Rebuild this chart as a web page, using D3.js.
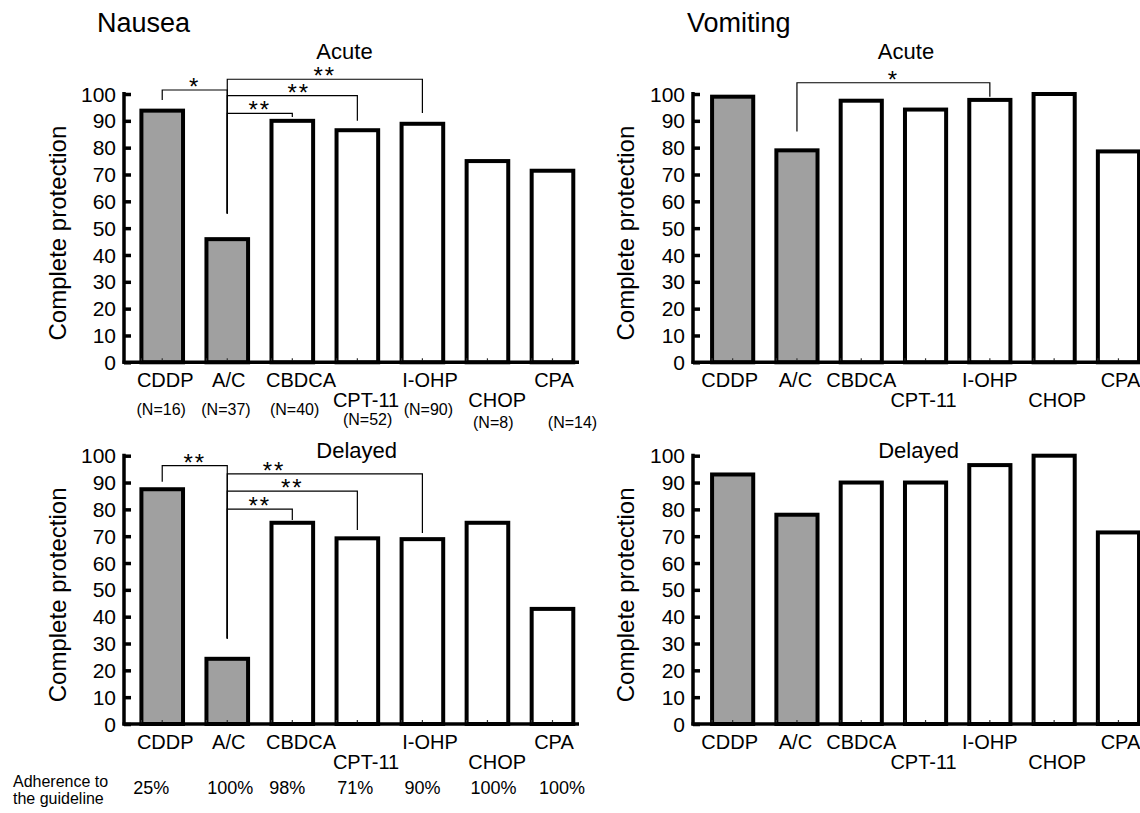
<!DOCTYPE html>
<html><head><meta charset="utf-8">
<script src="https://cdn.jsdelivr.net/npm/d3@7"></script>
<style>
body{margin:0;background:#fff}
svg{display:block}
text{font-family:"Liberation Sans",Arial,Helvetica,sans-serif;fill:#000}
</style>
</head><body>
<svg id="chart" width="1140" height="813"></svg>
<script>
// ---------- data ----------
const categories = ["CDDP","A/C","CBDCA","CPT-11","I-OHP","CHOP","CPA"];
const labelRow   = [0,0,0,1,0,1,0];
const shaded     = ["CDDP","A/C"];
const nLabels    = ["(N=16)","(N=37)","(N=40)","(N=52)","(N=90)","(N=8)","(N=14)"];
const adherence  = ["25%","100%","98%","71%","90%","100%","100%"];
const yTicks     = [0,10,20,30,40,50,60,70,80,90,100];

const nauseaAcute     = [93.8,45.9,90.0,86.5,88.9,75.0,71.4];
const nauseaDelayed   = [87.5,24.3,75.0,69.2,68.9,75.0,42.9];
const vomitingAcute   = [99.0,79.0,97.5,94.2,97.8,100.0,78.6];
const vomitingDelayed = [93.0,78.0,90.0,90.0,96.5,100.0,71.4];

// brackets: [from, to, level, fromEnd, toEnd, label, labelFraction]
const bracketsNauseaAcute = [
  ["CDDP","A/C",101.5,97.8,55.5,"*",0.5],
  ["A/C","I-OHP",105.5,55.5,92.9,"**",0.5],
  ["A/C","CPT-11",99.4,55.5,90.0,"**",0.55],
  ["A/C","CBDCA",92.8,55.5,91.4,"**",0.5]
];
const bracketsNauseaDelayed = [
  ["CDDP","A/C",96.3,90.3,31.9,"**",0.5],
  ["A/C","I-OHP",93.2,31.9,71.2,"**",0.24],
  ["A/C","CPT-11",86.8,31.9,72.3,"**",0.5],
  ["A/C","CBDCA",80.1,31.9,76.0,"**",0.5]
];
const bracketsVomitingAcute = [
  ["A/C","I-OHP",104.2,86.0,99.0,"*",0.5]
];

// ---------- layout ----------
const svg = d3.select("#chart");
const left  = {axisX:124, range:[129.7,585], axisEnd:579, ylabX:66, catDx:[3,1.5,8.7,8.7,7.7,9.8,1.5]};
const right = {axisX:693, range:[700.5,1150.6], axisEnd:1160, ylabX:634, catDx:[-3,-1.5,0,-2,0,3,2]};
const top_  = {y0:362.3, y100:94};
const bot_  = {y0:724, y100:455.7};

const panels = [
  {col:left,  row:top_, values:nauseaAcute,     sub:"Acute",   subX:344.5, subY:59.3,  brackets:bracketsNauseaAcute, nl:true},
  {col:left,  row:bot_, values:nauseaDelayed,   sub:"Delayed", subX:356.7, subY:458.3, brackets:bracketsNauseaDelayed, adh:true},
  {col:right, row:top_, values:vomitingAcute,   sub:"Acute",   subX:906,   subY:59.3,  brackets:bracketsVomitingAcute},
  {col:right, row:bot_, values:vomitingDelayed, sub:"Delayed", subX:918.6, subY:458,   brackets:[]}
];

svg.append("text").attr("x",97).attr("y",32).attr("font-size",27).text("Nausea");
svg.append("text").attr("x",687).attr("y",32).attr("font-size",27).text("Vomiting");

panels.forEach(p => {
  const x = d3.scaleBand().domain(categories).range(p.col.range).paddingInner(0.36).paddingOuter(0.18);
  const y = d3.scaleLinear().domain([0,100]).range([p.row.y0, p.row.y100]);
  const g = svg.append("g");
  const cx = c => x(c) + x.bandwidth()/2;

  // subtitle
  g.append("text").attr("x",p.subX).attr("y",p.subY).attr("text-anchor","middle")
    .attr("font-size",22).text(p.sub);

  // bars
  g.selectAll("rect.bar").data(categories).join("rect")
    .attr("x",c=>x(c)).attr("width",x.bandwidth())
    .attr("y",(c,i)=>y(p.values[i])).attr("height",(c,i)=>y(0)-y(p.values[i]))
    .attr("fill",c=>shaded.includes(c)?"#a0a0a0":"#fff")
    .attr("stroke","#000").attr("stroke-width",4);

  // small x ticks
  const tx = [];
  categories.forEach(c=>{ tx.push(x(c)); tx.push(cx(c)); });
  g.selectAll("line.xt").data(tx).join("line")
    .attr("x1",d=>d).attr("x2",d=>d).attr("y1",y(0)).attr("y2",y(0)-4)
    .attr("stroke","#333").attr("stroke-width",1.2);

  // y axis
  const ya = d3.axisRight(y).tickValues(yTicks).tickSize(7).tickFormat("");
  const ag = g.append("g").attr("transform",`translate(${p.col.axisX},0)`).call(ya);
  ag.select(".domain").remove();
  ag.selectAll(".tick line").attr("stroke","#000").attr("stroke-width",3.5);
  g.append("line").attr("x1",p.col.axisX).attr("x2",p.col.axisX)
    .attr("y1",y(100)-2).attr("y2",y(0)+1.5).attr("stroke","#000").attr("stroke-width",3.5);
  g.append("line").attr("x1",p.col.axisX-1.5).attr("x2",p.col.axisEnd)
    .attr("y1",y(0)).attr("y2",y(0)).attr("stroke","#000").attr("stroke-width",3.5);
  g.selectAll("text.yt").data(yTicks).join("text")
    .attr("x",p.col.axisX-8).attr("y",d=>y(d)).attr("dy","0.36em")
    .attr("text-anchor","end").attr("font-size",21).text(d=>d);

  // y label
  g.append("text").attr("transform",`translate(${p.col.ylabX},${(y(0)+y(100))/2+5}) rotate(-90)`)
    .attr("text-anchor","middle").attr("font-size",24).text("Complete protection");

  // category labels
  g.selectAll("text.cat").data(categories).join("text")
    .attr("x",(c,i)=>cx(c)+p.col.catDx[i])
    .attr("y",(c,i)=>y(0)+(labelRow[i]?45:24.5))
    .attr("text-anchor","middle").attr("font-size",20).text(c=>c);

  if (p.nl) {
    const nDx = [-1,-1.3,2.3,10.3,6,5.8,20];
    const nDy = [52.7,52.7,52.7,62.7,52.7,65.7,65.7];
    g.selectAll("text.n").data(nLabels).join("text")
      .attr("x",(d,i)=>cx(categories[i])+nDx[i]).attr("y",(d,i)=>y(0)+nDy[i])
      .attr("text-anchor","middle").attr("font-size",16).text(d=>d);
  }
  if (p.adh) {
    const aDx = [-11,3,-5,-2,0,6,9.5];
    g.selectAll("text.adh").data(adherence).join("text")
      .attr("x",(d,i)=>cx(categories[i])+aDx[i]).attr("y",794)
      .attr("text-anchor","middle").attr("font-size",18).text(d=>d);
    g.append("text").attr("x",13).attr("y",787.3).attr("font-size",16).text("Adherence to");
    g.append("text").attr("x",13).attr("y",804).attr("font-size",16).text("the guideline");
  }

  // brackets
  p.brackets.forEach(b => {
    const [a,bb,level,aEnd,bEnd,lab,f] = b;
    const xa = cx(a), xb = cx(bb);
    g.append("path")
      .attr("d",`M${xa},${y(aEnd)}V${y(level)}H${xb}V${y(bEnd)}`)
      .attr("fill","none").attr("stroke","#000").attr("stroke-width",1.2);
    g.append("text").attr("x",xa+(xb-xa)*f).attr("y",y(level)-8+13)
      .attr("text-anchor","middle").attr("font-size",24).attr("letter-spacing",2)
      .text(lab);
  });
});
</script>
</body></html>
